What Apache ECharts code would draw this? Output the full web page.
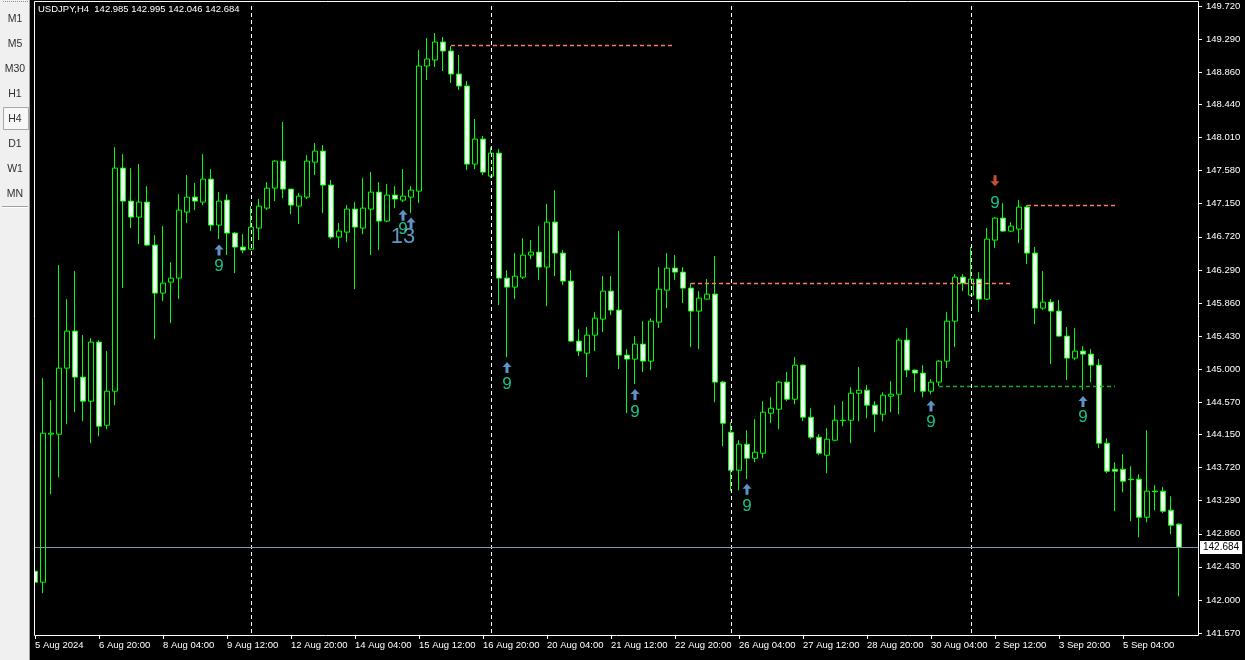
<!DOCTYPE html>
<html>
<head>
<meta charset="utf-8">
<title>USDJPY,H4</title>
<script src="https://cdn.jsdelivr.net/npm/echarts@6/dist/echarts.min.js"></script>
<style>
  html, body { margin: 0; padding: 0; background: #000; }
  #chart { width: 1245px; height: 660px; }
</style>
</head>
<body>
<div id="chart"></div>
<script>
// H4 bars, 5 Aug 2024 12:00 .. 6 Sep 2024 08:00
const opens = [
  142.373, 142.230, 144.154, 144.154, 145.013, 145.494, 144.896, 144.583, 145.351, 144.271,
  144.713, 147.613, 147.184, 146.976, 147.171, 146.612, 145.988, 146.131, 146.183, 147.041,
  147.236, 147.171, 147.470, 146.872, 147.197, 146.768, 146.586, 146.560, 146.833, 147.093,
  147.353, 147.704, 147.340, 147.119, 147.236, 147.691, 147.834, 147.392, 146.716, 146.781,
  147.080, 146.833, 147.080, 147.301, 146.924, 147.262, 147.197, 147.236, 147.314, 148.940,
  149.018, 149.252, 149.135, 148.836, 148.680, 147.665, 147.990, 147.509, 147.808, 146.183,
  146.066, 146.196, 146.482, 146.521, 146.326, 146.911, 146.508, 146.144, 145.364, 145.208,
  145.442, 145.650, 146.014, 145.767, 145.182, 145.130, 145.325, 145.104, 145.611, 146.027,
  146.313, 146.261, 146.053, 145.754, 145.910, 145.975, 144.831, 144.180, 143.686, 144.024,
  143.842, 143.907, 144.427, 144.479, 144.831, 144.609, 145.052, 144.375, 144.115, 143.881,
  144.076, 144.330, 144.336, 144.687, 144.726, 144.531, 144.414, 144.648, 144.674, 145.377,
  144.987, 144.948, 144.713, 144.831, 145.104, 145.624, 146.196, 145.962, 146.170, 145.910,
  146.677, 146.963, 146.794, 146.820, 147.106, 146.508, 145.793, 145.871, 145.754, 145.429,
  145.143, 145.234, 145.195, 145.052, 144.037, 143.699, 143.699, 143.569, 143.569, 143.075,
  143.413, 143.413, 143.166, 142.985
];
const closes = [
  142.230, 144.167, 144.167, 145.013, 145.494, 144.896, 144.583, 145.351, 144.258, 144.713,
  147.613, 147.184, 146.976, 147.171, 146.612, 145.988, 146.118, 146.183, 147.067, 147.236,
  147.184, 147.470, 146.872, 147.184, 146.768, 146.586, 146.547, 146.846, 147.119, 147.353,
  147.704, 147.340, 147.132, 147.249, 147.704, 147.834, 147.392, 146.716, 146.794, 147.080,
  146.846, 147.093, 147.301, 146.924, 147.262, 147.210, 147.249, 147.327, 148.940, 149.031,
  149.252, 149.135, 148.836, 148.680, 147.665, 147.990, 147.561, 147.808, 146.183, 146.066,
  146.209, 146.482, 146.521, 146.326, 146.911, 146.508, 146.144, 145.364, 145.234, 145.442,
  145.663, 146.014, 145.767, 145.182, 145.130, 145.325, 145.104, 145.624, 146.040, 146.313,
  146.261, 146.053, 145.754, 145.923, 145.975, 144.831, 144.297, 143.686, 144.024, 143.842,
  143.920, 144.440, 144.492, 144.831, 144.609, 145.052, 144.375, 144.115, 143.907, 144.089,
  144.336, 144.336, 144.687, 144.726, 144.531, 144.414, 144.661, 144.674, 145.377, 144.987,
  144.948, 144.713, 144.831, 145.104, 145.624, 146.196, 146.118, 146.170, 145.910, 146.690,
  146.963, 146.794, 146.859, 147.106, 146.508, 145.793, 145.871, 145.754, 145.429, 145.143,
  145.234, 145.195, 145.052, 144.037, 143.673, 143.673, 143.543, 143.563, 143.075, 143.413,
  143.407, 143.153, 142.971, 142.684
];
const lows = [
  141.710, 142.087, 143.374, 143.595, 144.284, 144.440, 144.323, 144.037, 144.128, 144.219,
  144.531, 146.053, 146.833, 146.625, 146.599, 145.390, 145.884, 145.598, 145.910, 146.898,
  147.067, 147.132, 146.794, 146.690, 146.482, 146.248, 146.508, 146.547, 146.677, 147.067,
  147.184, 147.223, 147.015, 146.885, 147.210, 147.522, 147.028, 146.690, 146.573, 146.651,
  146.040, 146.755, 146.482, 146.547, 146.911, 147.093, 147.171, 147.028, 147.158, 148.758,
  148.927, 148.875, 148.719, 148.628, 147.587, 147.600, 147.522, 147.483, 145.832, 145.156,
  145.910, 146.170, 146.430, 146.157, 145.819, 146.209, 146.092, 145.351, 145.169, 144.896,
  145.234, 145.481, 145.702, 145.000, 144.427, 144.805, 144.961, 144.987, 145.533, 145.793,
  146.157, 145.858, 145.286, 145.260, 145.905, 144.570, 143.998, 143.413, 143.426, 143.569,
  143.790, 143.842, 144.297, 144.219, 144.583, 144.544, 144.323, 144.089, 143.881, 143.647,
  144.063, 144.258, 144.037, 144.323, 144.362, 144.180, 144.323, 144.440, 144.414, 144.896,
  144.700, 144.635, 144.674, 144.779, 145.013, 145.286, 146.014, 145.949, 145.741, 145.900,
  146.573, 146.781, 146.780, 146.638, 146.365, 145.585, 145.767, 145.065, 145.416, 144.857,
  145.117, 144.726, 144.831, 143.972, 143.647, 143.153, 143.400, 143.023, 142.815, 143.010,
  143.166, 143.127, 142.854, 142.046
];
const highs = [
  142.945, 144.883, 144.596, 146.352, 145.910, 146.274, 145.442, 145.403, 145.377, 145.234,
  147.886, 147.795, 147.613, 147.665, 147.379, 146.742, 146.859, 146.391, 147.275, 147.522,
  147.418, 147.795, 147.600, 147.301, 147.275, 146.781, 146.755, 147.119, 147.210, 147.431,
  147.717, 148.212, 147.340, 147.288, 147.782, 147.938, 147.912, 147.457, 146.898, 147.132,
  147.171, 147.483, 147.561, 147.431, 147.405, 147.379, 147.600, 147.379, 149.148, 149.304,
  149.369, 149.317, 149.200, 149.083, 148.745, 148.251, 148.029, 147.886, 147.860, 146.287,
  146.508, 146.703, 146.677, 146.859, 147.145, 147.327, 146.547, 146.287, 145.520, 145.546,
  145.741, 146.209, 146.209, 146.794, 145.260, 145.429, 145.624, 145.663, 146.326, 146.508,
  146.482, 146.326, 146.118, 146.014, 146.170, 146.469, 144.844, 144.310, 144.076, 144.206,
  144.349, 144.583, 144.635, 144.844, 144.961, 145.156, 145.060, 144.492, 144.154, 144.232,
  144.531, 144.583, 144.765, 145.026, 144.792, 144.583, 144.700, 144.844, 145.403, 145.533,
  144.995, 145.052, 144.870, 145.117, 145.741, 146.235, 146.235, 146.586, 146.261, 146.833,
  146.976, 147.158, 146.911, 147.197, 147.132, 146.586, 146.274, 145.910, 145.897, 145.546,
  145.533, 145.299, 145.260, 145.130, 144.102, 143.790, 143.894, 143.738, 143.634, 144.206,
  143.491, 143.465, 143.348, 142.995
];

const xTickLabels = [
  "5 Aug 2024", "6 Aug 20:00", "8 Aug 04:00", "9 Aug 12:00", "12 Aug 20:00", "14 Aug 04:00",
  "15 Aug 12:00", "16 Aug 20:00", "20 Aug 04:00", "21 Aug 12:00", "22 Aug 20:00", "26 Aug 04:00",
  "27 Aug 12:00", "28 Aug 20:00", "30 Aug 04:00", "2 Sep 12:00", "3 Sep 20:00", "5 Sep 04:00"
];
const yTickValues = [
  141.57, 142.00, 142.43, 142.86, 143.29, 143.72, 144.15, 144.57, 145.00, 145.43,
  145.86, 146.29, 146.72, 147.15, 147.58, 148.01, 148.44, 148.86, 149.29, 149.72
];

// week separators (bar index of Monday 00:00)
const weekStarts = [27, 57, 87, 117];
const bidPrice = 142.684;

// indicator levels: [fromBar, toBar, price]
const redLevels = [[52, 80, 149.209], [82, 122, 146.114], [124, 135, 147.128]];
const greenLevels = [[113, 135, 144.775]];

// TD counts / arrows
const upArrowBars = [23, 46, 47, 59, 75, 89, 112, 131];
const upArrowPrices = [146.55, 147.00, 146.90, 145.02, 144.67, 143.44, 144.52, 144.58];
const downArrowBars = [120];
const downArrowPrices = [147.45];
const nineBars = [23, 46, 59, 75, 89, 112, 120, 131];
const ninePrices = [146.33, 146.82, 144.80, 144.44, 143.22, 144.31, 147.15, 144.37];
const thirteenBars = [46];
const thirteenPrices = [146.72];

const timeframes = ["M1", "M5", "M30", "H1", "H4", "D1", "W1", "MN"];

const nBars = opens.length;
const xCats = [];
for (let i = 0; i < nBars + 2; i++) xCats.push(String(i));
const candles = opens.map((o, i) => [o, closes[i], lows[i], highs[i]]);

const font = "'Liberation Sans', Arial, sans-serif";
const chart = echarts.init(document.getElementById("chart"));

const lineMarks = [];
weekStarts.forEach(b => lineMarks.push({
  xAxis: b, lineStyle: { color: "#ffffff", type: [4, 3], width: 1 }
}));
redLevels.forEach(l => lineMarks.push([
  { coord: [l[0], l[2]], lineStyle: { color: "#ff7a60", type: [4, 3], width: 1.3 } },
  { coord: [l[1], l[2]] }
]));
greenLevels.forEach(l => lineMarks.push([
  { coord: [l[0], l[2]], lineStyle: { color: "#18b018", type: [4, 3], width: 1.3 } },
  { coord: [l[1], l[2]] }
]));
lineMarks.push({
  yAxis: bidPrice,
  lineStyle: { color: "#8595aa", type: "solid", width: 1 },
  label: {
    show: true, position: "end", distance: 1,
    formatter: bidPrice.toFixed(3),
    backgroundColor: "#ffffff", color: "#000000",
    fontFamily: font, fontSize: 10, padding: [2, 3, 1, 3]
  }
});

const graphics = [
  { type: "rect", z: 100, shape: { x: 0, y: 0, width: 30, height: 660 }, style: { fill: "#f0f0f0" } },
  { type: "rect", z: 100, shape: { x: 29, y: 0, width: 1, height: 660 }, style: { fill: "#a0a0a0" } },
  { type: "rect", z: 100, shape: { x: 30, y: 0, width: 4, height: 660 }, style: { fill: "#000000" } },
  { type: "rect", z: 101, shape: { x: 34.5, y: 1.5, width: 1164, height: 634 },
    style: { fill: null, stroke: "#ffffff", lineWidth: 1 } },
  { type: "line", z: 101, shape: { x1: 3, y1: 1.5, x2: 28, y2: 1.5 },
    style: { stroke: "#909090", lineWidth: 1, lineDash: [1, 1] } },
  { type: "rect", z: 101, shape: { x: 3.5, y: 107.5, width: 25, height: 22 },
    style: { fill: "#f7f7f7", stroke: "#a8a8a8", lineWidth: 1 } },
  { type: "line", z: 101, shape: { x1: 2, y1: 206.5, x2: 28, y2: 206.5 },
    style: { stroke: "#a0a0a0", lineWidth: 1 } },
  { type: "line", z: 101, shape: { x1: 2, y1: 207.5, x2: 28, y2: 207.5 },
    style: { stroke: "#ffffff", lineWidth: 1 } }
];
timeframes.forEach((t, i) => graphics.push({
  type: "text", z: 102, x: 15, y: 19 + i * 25,
  style: { text: t, fill: "#303030", font: "10.5px " + font, textAlign: "center", textVerticalAlign: "middle" }
}));

const upArrow = "path://M4.5,0 L9,5 L6,5 L6,11 L3,11 L3,5 L0,5 Z";
const downArrow = "path://M3,0 L6,0 L6,6 L9,6 L4.5,11 L0,6 L3,6 Z";

const option = {
  backgroundColor: "#000000",
  animation: false,
  title: {
    text: "USDJPY,H4  142.985 142.995 142.046 142.684",
    left: 38, top: 4, padding: 0,
    textStyle: { color: "#ffffff", fontSize: 9.5, fontWeight: "normal", fontFamily: font }
  },
  grid: { left: 31, right: 46, top: 6, bottom: 27 },
  xAxis: {
    type: "category",
    data: xCats,
    boundaryGap: true,
    offset: 3,
    axisLine: { show: false },
    axisTick: {
      show: true, length: 3, alignWithLabel: true,
      interval: (i) => i % 8 === 0 && i < nBars,
      lineStyle: { color: "#ffffff" }
    },
    axisLabel: {
      interval: (i) => i % 8 === 0 && i < nBars,
      formatter: (v, i) => xTickLabels[i / 8] || "",
      align: "left", margin: 4,
      color: "#ffffff", fontFamily: font, fontSize: 9.5
    },
    splitLine: { show: false }
  },
  yAxis: {
    type: "value",
    position: "right",
    min: 141.57, max: 149.72,
    axisLine: { show: false },
    axisTick: { show: true, length: 3, customValues: yTickValues, lineStyle: { color: "#ffffff" } },
    axisLabel: {
      customValues: yTickValues,
      formatter: (v) => v.toFixed(3),
      margin: 7, color: "#ffffff", fontFamily: font, fontSize: 9.5
    },
    splitLine: { show: false }
  },
  graphic: graphics,
  series: [
    {
      type: "candlestick",
      data: candles,
      barWidth: 5,
      itemStyle: {
        color: "#000000", color0: "#ffffff",
        borderColor: "#00ff00", borderColor0: "#00ff00", borderColorDoji: "#00ff00",
        borderWidth: 1
      },
      markLine: { silent: true, symbol: "none", label: { show: false }, data: lineMarks }
    },
    {
      type: "scatter", z: 5,
      symbol: upArrow, symbolSize: [9, 11],
      itemStyle: { color: "#74b8fa" },
      data: upArrowBars.map((b, i) => [b, upArrowPrices[i]])
    },
    {
      type: "scatter", z: 5,
      symbol: downArrow, symbolSize: [9, 11],
      itemStyle: { color: "#f8663f" },
      data: downArrowBars.map((b, i) => [b, downArrowPrices[i]])
    },
    {
      type: "scatter", z: 6,
      symbolSize: 1, itemStyle: { color: "rgba(0,0,0,0)" },
      label: {
        show: true, position: "inside", formatter: "9",
        color: "#1ef0a8", fontFamily: "'Liberation Sans Narrow', " + font, fontSize: 17
      },
      data: nineBars.map((b, i) => [b, ninePrices[i]])
    },
    {
      type: "scatter", z: 6,
      symbolSize: 1, itemStyle: { color: "rgba(0,0,0,0)" },
      label: {
        show: true, position: "inside", formatter: "13",
        color: "#7cbaf5", fontFamily: font, fontSize: 22
      },
      data: thirteenBars.map((b, i) => [b, thirteenPrices[i]])
    }
  ]
};

chart.setOption(option);
</script>
</body>
</html>
